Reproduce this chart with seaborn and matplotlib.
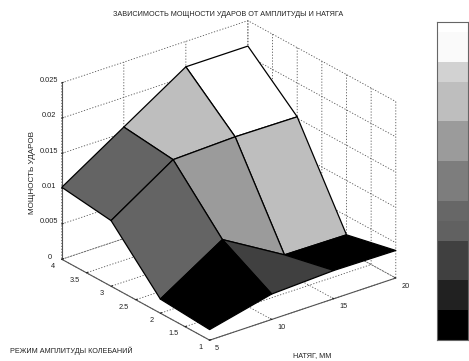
import numpy as np
import seaborn as sns
import matplotlib
matplotlib.use("Agg")
import matplotlib.pyplot as plt
from matplotlib.colors import ListedColormap

# datos
natyag = [5, 10, 15, 20]
amplituda = [1, 2, 3, 4]
moshnost = [
    [0.0015, 0.0036, 0.0040, 0.0039],
    [0.0020, 0.0075, 0.0024, 0.0023],
    [0.0093, 0.0150, 0.0153, 0.0152],
    [0.0102, 0.0158, 0.0214, 0.0214],
]
grises_caras = [
    [0, 64, 0],
    [100, 155, 190],
    [100, 190, 255],
]
x_ticks = [5, 10, 15, 20]
y_ticks = [1, 1.5, 2, 2.5, 3, 3.5, 4]
y_labels = ["1", "1.5", "2", "2.5", "3", "3.5", "4"]
z_ticks = [0, 0.005, 0.01, 0.015, 0.02, 0.025]
z_labels = ["0", "0.005", "0.01", "0.015", "0.02", "0.025"]
# barra de color
grises_barra = [255, 250, 210, 190, 155, 125, 103, 97, 64, 33, 0]
filas_barra = [1, 3, 2, 4, 4, 4, 2, 2, 4, 3, 3]
ticks_barra = [2.45, 5.65, 8.85, 12.05, 15.25, 18.45, 21.65, 24.85, 28.05]

sns.set_style("white")
plt.rcParams["font.family"] = ["Liberation Sans", "DejaVu Sans"]
plt.rcParams["grid.color"] = "#555555"
plt.rcParams["grid.linewidth"] = 0.6
plt.rcParams["grid.linestyle"] = (0, (1.5, 2))
plt.rcParams["text.color"] = "#222222"

fig = plt.figure(figsize=(4.69, 3.61), dpi=100)
ax = fig.add_axes([-10.6 / 469, -4.8 / 361, 1, 1], projection="3d", proj_type="ortho")
ax.view_init(elev=25.3, azim=232)
ax.set_box_aspect((236, 240, 195), zoom=1.047)

X, Y = np.meshgrid(natyag, amplituda)
Z = np.array(moshnost)
colores = plt.cm.gray(np.array(grises_caras) / 255)
ax.plot_surface(X, Y, Z, facecolors=colores, shade=False, rstride=1, cstride=1,
                edgecolor="black", linewidth=0.9, antialiased=True)

ax.set_xlim(5, 20, view_margin=0)
ax.set_ylim(1, 4, view_margin=0)
ax.set_zlim(0, 0.025, view_margin=0)
ax.set_xticks(x_ticks)
ax.set_yticks(y_ticks)
ax.set_yticklabels(y_labels)
ax.set_zticks(z_ticks)
ax.set_zticklabels(z_labels)
ax.tick_params(labelsize=5.3, colors="#222222", pad=-3)
for eje in [ax.xaxis, ax.yaxis, ax.zaxis]:
    eje.set_pane_color((1, 1, 1, 0))
    eje.pane.set_edgecolor("none")
    eje.line.set_color("#555555")
    eje.line.set_linewidth(0.8)
    eje._axinfo["tick"]["inward_factor"] = 0
    eje._axinfo["tick"]["outward_factor"] = 0.1

# alinear etiquetas para acercarlas a la figura original
for etiquetas, alineacion in [(ax.get_xticklabels(), "left"), (ax.get_yticklabels(), "right"), (ax.get_zticklabels(), "center")]:
    for t in etiquetas:
        t.set_ha(alineacion)
        t.set_va("baseline")

fig.text(228.5 / 469, 1 - 14 / 361, "ЗАВИСИМОСТЬ МОЩНОСТИ УДАРОВ ОТ АМПЛИТУДЫ И НАТЯГА",
         ha="center", va="center", fontsize=5.25)
fig.text(71 / 469, 1 - 351 / 361, "РЕЖИМ АМПЛИТУДЫ КОЛЕБАНИЙ", ha="center", va="center", fontsize=5.25)
fig.text(312 / 469, 1 - 355.5 / 361, "НАТЯГ, ММ", ha="center", va="center", fontsize=5.25)
fig.text(32 / 469, 1 - 172 / 361, "МОЩНОСТЬ УДАРОВ", ha="center", va="center", rotation=90, fontsize=5.9)

# barra de color
cax = fig.add_axes([437 / 469, 1 - 340 / 361, 31 / 469, 318 / 361])
valores = np.repeat(grises_barra, filas_barra).reshape(-1, 1)
sns.heatmap(valores, ax=cax, cmap=ListedColormap(plt.cm.gray(np.arange(256))), vmin=0, vmax=255,
            cbar=False, xticklabels=False, yticklabels=False)
cax.set_yticks(ticks_barra)
cax.set_yticklabels([])
cax.tick_params(axis="y", left=True, right=True, direction="in", length=3, width=0.7, color="#333333")
for lado in cax.spines.values():
    lado.set_visible(True)
    lado.set_color("#666666")
    lado.set_linewidth(0.8)

fig.savefig("out.png", dpi=100)
